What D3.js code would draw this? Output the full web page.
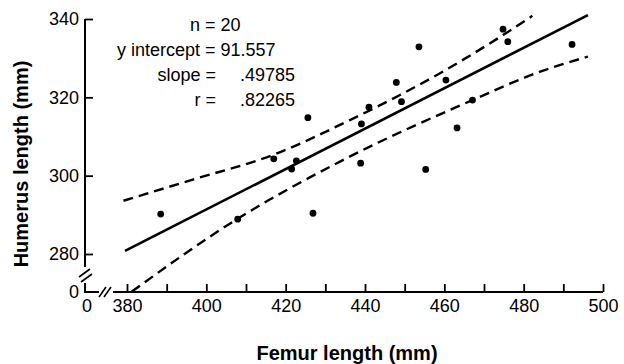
<!DOCTYPE html>
<html>
<head>
<meta charset="utf-8">
<script src="https://cdn.jsdelivr.net/npm/d3@7"></script>
<style>
  html, body { margin: 0; padding: 0; background: #fff; }
  svg { display: block; }
  text { font-family: "Liberation Sans", Arial, Helvetica, sans-serif; fill: #000; }
</style>
</head>
<body>
<svg id="chart" width="624" height="364"></svg>
<script>
// ---- data ----
const femur   = [388.5, 407.9, 417.0, 421.5, 422.7, 425.6, 426.9, 438.9, 439.1, 441.0,
                 447.9, 449.2, 453.6, 455.3, 460.4, 463.2, 467.1, 474.8, 476.0, 492.2];
const humerus = [290.2, 288.9, 304.3, 301.7, 303.8, 314.8, 290.4, 303.2, 313.2, 317.5,
                 323.8, 318.9, 332.9, 301.6, 324.4, 312.2, 319.3, 337.4, 334.2, 333.5];
const fitX   = [379.5, 496.2];
const fitY   = [280.8, 341.0];
const upperX = [379.1, 396.6, 416.8, 436.2, 458.8, 474.8, 482.2];
const upperY = [293.6, 299.0, 305.3, 314.2, 326.1, 335.9, 340.8];
const lowerX = [381.2, 407.9, 433.7, 467.1, 484.0, 496.2];
const lowerY = [270.4, 289.0, 303.6, 319.3, 326.5, 330.4];
const xTicks = [380, 390, 400, 410, 420, 430, 440, 450, 460, 470, 480, 490, 500];
const xTickLabels = [380, 400, 420, 440, 460, 480, 500];
const yTicks = [280, 300, 320, 340];
const statLabels = ["n = 20", "y intercept = 91.557", "slope =", "r ="];
const statValues = ["", "", ".49785", ".82265"];
const xTitle = "Femur length (mm)";
const yTitle = "Humerus length (mm)";

// ---- layout ----
const svg = d3.select("#chart");
const x = d3.scaleLinear().domain([380, 500]).range([127, 603]);
const y = d3.scaleLinear().domain([280, 340]).range([254, 19]);
const axisY = 292;   // pixel of x axis
const axisX = 85;    // pixel of y axis

// x axis ticks
const gx = svg.append("g").attr("transform", `translate(0,${axisY})`)
  .call(d3.axisBottom(x).tickValues(xTicks).tickSizeInner(-8).tickSizeOuter(0).tickPadding(7)
        .tickFormat(d => xTickLabels.includes(d) ? d : ""));
gx.select(".domain").remove();
gx.selectAll(".tick line").attr("stroke", "#000").attr("stroke-width", 1.8);
gx.selectAll(".tick text").attr("font-size", 18).attr("font-family", "Liberation Sans, Arial, sans-serif");

// y axis ticks
const gy = svg.append("g").attr("transform", `translate(${axisX},0)`)
  .call(d3.axisLeft(y).tickValues(yTicks).tickSizeInner(-8).tickSizeOuter(0).tickPadding(6));
gy.select(".domain").remove();
gy.selectAll(".tick line").attr("stroke", "#000").attr("stroke-width", 1.8);
gy.selectAll(".tick text").attr("font-size", 18).attr("font-family", "Liberation Sans, Arial, sans-serif");

// axis lines with breaks
const ax = svg.append("g").attr("stroke", "#000").attr("stroke-width", 2).attr("fill", "none");
ax.append("line").attr("x1", axisX).attr("x2", axisX).attr("y1", y(340)).attr("y2", 267);
ax.append("line").attr("x1", 113).attr("x2", x(500)).attr("y1", axisY).attr("y2", axisY);
ax.append("path").attr("d", `M${axisX},283 L${axisX},${axisY} L99,${axisY}`);
// break marks
ax.append("line").attr("x1", 79).attr("y1", 277).attr("x2", 90).attr("y2", 269).attr("stroke-width", 1.6);
ax.append("line").attr("x1", 81).attr("y1", 282).attr("x2", 92).attr("y2", 274).attr("stroke-width", 1.6);
ax.append("line").attr("x1", 99).attr("y1", 297).attr("x2", 106).attr("y2", 287).attr("stroke-width", 1.6);
ax.append("line").attr("x1", 104).attr("y1", 297).attr("x2", 111).attr("y2", 287).attr("stroke-width", 1.6);

// origin zeros
svg.append("text").attr("x", 79).attr("y", axisY).attr("dy", "0.35em")
  .attr("text-anchor", "end").attr("font-size", 18).text("0");
svg.append("text").attr("x", 87).attr("y", axisY + 7).attr("dy", "0.71em")
  .attr("text-anchor", "middle").attr("font-size", 18).text("0");

// regression line
const line = d3.line().x(d => x(d[0])).y(d => y(d[1]));
svg.append("path").datum(d3.zip(fitX, fitY)).attr("d", line)
  .attr("fill", "none").attr("stroke", "#000").attr("stroke-width", 2.6);

// confidence bands
const curve = d3.line().x(d => x(d[0])).y(d => y(d[1])).curve(d3.curveMonotoneX);
[d3.zip(upperX, upperY), d3.zip(lowerX, lowerY)].forEach(pts => {
  svg.append("path").datum(pts).attr("d", curve)
    .attr("fill", "none").attr("stroke", "#000").attr("stroke-width", 2.4)
    .attr("stroke-dasharray", "10,6");
});

// points
svg.append("g").selectAll("circle").data(d3.zip(femur, humerus)).join("circle")
  .attr("cx", d => x(d[0])).attr("cy", d => y(d[1])).attr("r", 3.4).attr("fill", "#000");

// stats text
const st = svg.append("g").attr("font-size", 18);
st.append("text").attr("x", 190).attr("y", 31).text(statLabels[0]);
st.append("text").attr("x", 117).attr("y", 56).text(statLabels[1]);
st.append("text").attr("x", 216).attr("y", 81).attr("text-anchor", "end").text(statLabels[2]);
st.append("text").attr("x", 240).attr("y", 81).text(statValues[2]);
st.append("text").attr("x", 216).attr("y", 106).attr("text-anchor", "end").text(statLabels[3]);
st.append("text").attr("x", 240).attr("y", 106).text(statValues[3]);

// axis titles
svg.append("text").attr("x", 347).attr("y", 360).attr("text-anchor", "middle")
  .attr("font-size", 20).attr("font-weight", "bold").text(xTitle);
svg.append("text").attr("transform", "translate(28,164) rotate(-90)").attr("text-anchor", "middle")
  .attr("font-size", 20).attr("font-weight", "bold").text(yTitle);
</script>
</body>
</html>
